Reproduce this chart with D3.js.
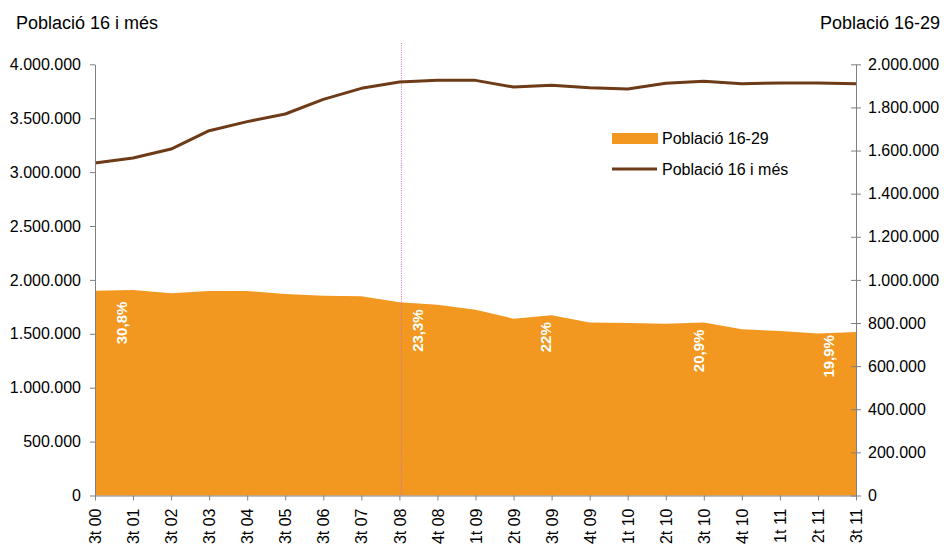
<!DOCTYPE html>
<html>
<head>
<meta charset="utf-8">
<script src="https://cdn.jsdelivr.net/npm/d3@7"></script>
<style>
  body { margin: 0; background: #fff; }
  svg { font-family: "Liberation Sans", Arial, sans-serif; }
  .axis path, .axis line { stroke: #808080; }
  .axis text { fill: #000; font-size: 16px; }
</style>
</head>
<body>
<svg width="944" height="545"></svg>
<script>
// data
const categories = ["3t 00","3t 01","3t 02","3t 03","3t 04","3t 05","3t 06","3t 07","3t 08","4t 08",
  "1t 09","2t 09","3t 09","4t 09","1t 10","2t 10","3t 10","4t 10","1t 11","2t 11","3t 11"];
const pob16mes = [3085000,3131000,3214000,3384000,3468000,3539000,3675000,3777000,3836000,3851000,
  3851000,3789000,3805000,3783000,3771000,3824000,3842000,3820000,3827000,3827000,3820000];
const pob1629 = [950000,953000,938000,948000,948000,935000,927000,924000,896000,885000,
  862000,820000,836000,802000,800000,797000,802000,771000,763000,751000,758000];
const leftTicks = [0,500000,1000000,1500000,2000000,2500000,3000000,3500000,4000000];
const rightTicks = [0,200000,400000,600000,800000,1000000,1200000,1400000,1600000,1800000,2000000];
const pctCats = ["3t 00","3t 08","3t 09","3t 10","3t 11"];
const pctLabels = ["30,8%","23,3%","22%","20,9%","19,9%"];
const markerCat = "3t 08";

const svg = d3.select("svg");
const mLeft = 95, mRight = 856, mTop = 64.3, mBottom = 495.5;
const orange = "#f2971f", brown = "#6e3b18";

const fmt = d3.formatLocale({decimal: ",", thousands: ".", grouping: [3], currency: ["", ""]}).format(",d");

const x = d3.scalePoint().domain(categories).range([mLeft, mRight]);
const yL = d3.scaleLinear().domain([0, 4000000]).range([mBottom, mTop]);
const yR = d3.scaleLinear().domain([0, 2000000]).range([mBottom, mTop]);

// area for 16-29
const area = d3.area()
  .x((d, i) => x(categories[i]))
  .y0(mBottom)
  .y1(d => yR(d));
svg.append("path").datum(pob1629).attr("d", area).attr("fill", orange);

// dotted marker line
svg.append("line")
  .attr("x1", x(markerCat) + 2).attr("x2", x(markerCat) + 2)
  .attr("y1", 43).attr("y2", mBottom)
  .attr("stroke", "#c070b8").attr("stroke-width", 1).attr("stroke-dasharray", "1,1.3");

// line for 16 i mes
const line = d3.line().x((d, i) => x(categories[i])).y(d => yL(d));
svg.append("path").datum(pob16mes).attr("d", line)
  .attr("fill", "none").attr("stroke", brown).attr("stroke-width", 3).attr("stroke-linejoin", "round");

// percentage labels
const dxs = [27, 18, -6, -5, -27], dys = [11, 7, 7, 7, 3];
pctCats.forEach((c, k) => {
  const i = categories.indexOf(c);
  svg.append("text")
    .attr("transform", "translate(" + (x(c) + dxs[k]) + "," + (yR(pob1629[i]) + dys[k]) + ") rotate(-90)")
    .attr("text-anchor", "end").attr("dy", "0.35em")
    .attr("fill", "#fff").attr("font-weight", "bold").attr("font-size", "15px")
    .text(pctLabels[k]);
});

// axes
svg.append("g").attr("class", "axis").attr("transform", "translate(" + mLeft + ",0)")
  .call(d3.axisLeft(yL).tickValues(leftTicks).tickFormat(fmt).tickSize(5).tickSizeOuter(0).tickPadding(9));

const gR = svg.append("g").attr("class", "axis").attr("transform", "translate(" + mRight + ",0)")
  .call(d3.axisRight(yR).tickValues(rightTicks).tickFormat(fmt).tickSize(5).tickSizeOuter(0).tickPadding(7));
gR.selectAll(".tick line").attr("x1", -5);

const gB = svg.append("g").attr("class", "axis").attr("transform", "translate(0," + mBottom + ")")
  .call(d3.axisBottom(x).tickSize(5).tickSizeOuter(0));
gB.selectAll(".tick text")
  .attr("transform", "rotate(-90)").attr("text-anchor", "end")
  .attr("x", -13).attr("y", 0).attr("dy", "0.35em");
svg.selectAll(".axis .tick line").attr("stroke", "#000");

// titles
svg.append("text").attr("x", 16).attr("y", 29).attr("font-size", "18px").text("Població 16 i més");
svg.append("text").attr("x", 940).attr("y", 29).attr("font-size", "18px").attr("text-anchor", "end").text("Població 16-29");

// legend
svg.append("rect").attr("x", 612).attr("y", 133).attr("width", 46).attr("height", 11).attr("fill", orange);
svg.append("text").attr("x", 662).attr("y", 144).attr("font-size", "16px").text("Població 16-29");
svg.append("line").attr("x1", 612).attr("x2", 657).attr("y1", 169).attr("y2", 169)
  .attr("stroke", brown).attr("stroke-width", 3);
svg.append("text").attr("x", 662).attr("y", 175).attr("font-size", "16px").text("Població 16 i més");
</script>
</body>
</html>
